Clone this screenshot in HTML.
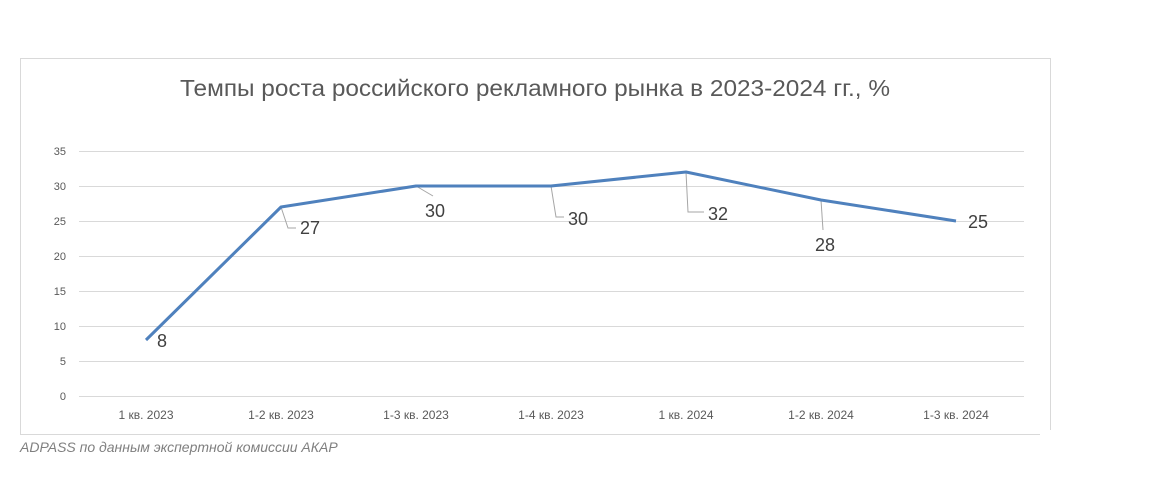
<!DOCTYPE html>
<html><head><meta charset="utf-8"><style>
body{margin:0;background:#fff;width:1176px;height:473px;overflow:hidden;font-family:"Liberation Sans",sans-serif}
</style></head><body>
<svg width="1176" height="473" xmlns="http://www.w3.org/2000/svg" font-family="Liberation Sans, sans-serif">
<rect x="20.5" y="58.5" width="1030" height="376" fill="#fff" stroke="#d9d9d9"/>
<rect x="1040" y="430" width="20" height="10" fill="#fff"/>
<text x="180" y="96" textLength="710" lengthAdjust="spacingAndGlyphs" font-size="23" fill="#595959">Темпы роста российского рекламного рынка в 2023-2024 гг., %</text>
<g stroke="#d9d9d9" stroke-width="1">
<line x1="79" x2="1024" y1="151.5" y2="151.5"/><line x1="79" x2="1024" y1="186.5" y2="186.5"/>
<line x1="79" x2="1024" y1="221.5" y2="221.5"/><line x1="79" x2="1024" y1="256.5" y2="256.5"/>
<line x1="79" x2="1024" y1="291.5" y2="291.5"/><line x1="79" x2="1024" y1="326.5" y2="326.5"/>
<line x1="79" x2="1024" y1="361.5" y2="361.5"/><line x1="79" x2="1024" y1="396.5" y2="396.5"/>
</g>
<g font-size="11" fill="#595959" text-anchor="end">
<text x="66" y="155">35</text><text x="66" y="190">30</text><text x="66" y="225">25</text><text x="66" y="260">20</text>
<text x="66" y="295">15</text><text x="66" y="330">10</text><text x="66" y="365">5</text><text x="66" y="400">0</text>
</g>
<g font-size="12" fill="#595959" text-anchor="middle">
<text x="146" y="419">1 кв. 2023</text><text x="281" y="419">1-2 кв. 2023</text><text x="416" y="419">1-3 кв. 2023</text>
<text x="551" y="419">1-4 кв. 2023</text><text x="686" y="419">1 кв. 2024</text><text x="821" y="419">1-2 кв. 2024</text><text x="956" y="419">1-3 кв. 2024</text>
</g>
<g stroke="#a6a6a6" stroke-width="1" fill="none">
<polyline points="281,207 288,228 296,228"/>
<polyline points="416,186 433,196"/>
<polyline points="551,186 556,217 564,217"/>
<polyline points="686,172 688,212 704,212"/>
<polyline points="821,200 823,230"/>
</g>
<polyline points="146,340 281,207 416,186 551,186 686,172 821,200 956,221" fill="none" stroke="#4f81bd" stroke-width="3" stroke-linejoin="round"/>
<g font-size="18" fill="#404040">
<text x="157" y="347">8</text><text x="300" y="234">27</text><text x="425" y="217">30</text>
<text x="568" y="225">30</text><text x="708" y="220">32</text><text x="815" y="251">28</text><text x="968" y="228">25</text>
</g>
<text x="20" y="452" font-size="14" font-style="italic" fill="#7f7f7f">ADPASS по данным экспертной комиссии АКАР</text>
</svg>
</body></html>
